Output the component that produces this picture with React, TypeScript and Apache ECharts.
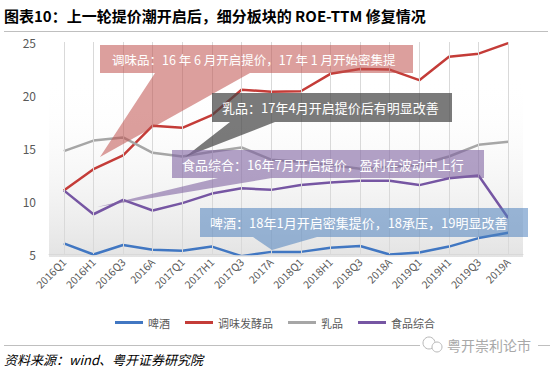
import React, { useEffect, useRef } from "react";
import * as echarts from "echarts";

const categories = [
  "2016Q1", "2016H1", "2016Q3", "2016A", "2017Q1", "2017H1", "2017Q3", "2017A",
  "2018Q1", "2018H1", "2018Q3", "2018A", "2019Q1", "2019H1", "2019Q3", "2019A",
];
const beer = [6.0, 4.95, 5.85, 5.4, 5.3, 5.7, 4.8, 5.2, 5.2, 5.6, 5.75, 4.95, 5.15, 5.7, 6.5, 7.0];
const condiment = [11.0, 13.0, 14.3, 17.1, 16.9, 18.1, 20.5, 20.3, 20.35, 22.0, 22.45, 22.4, 21.4, 23.6, 23.9, 24.9];
const dairy = [14.7, 15.7, 16.0, 14.55, 14.2, 14.65, 15.05, 13.9, 13.7, 13.4, 13.05, 13.2, 13.4, 14.2, 15.3, 15.6];
const food = [11.0, 8.75, 10.1, 9.1, 9.8, 10.7, 11.2, 11.05, 11.5, 11.75, 11.9, 11.9, 11.5, 12.15, 12.4, 8.4];
const seriesNames = ["啤酒", "调味发酵品", "乳品", "食品综合"];
const seriesColors = ["#4177c2", "#c43c38", "#a6a6a6", "#7656a3"];
const yTicks = { min: 5, max: 25, interval: 5 };

const titleText = "图表10：上一轮提价潮开启后，细分板块的 ROE-TTM 修复情况";
const sourceText = "资料来源：wind、粤开证券研究院";
const watermark = "粤开崇利论市";
const notes = [
  "调味品：16 年 6 月开启提价，17 年 1 月开始密集提",
  "乳品：17年4月开启提价后有明显改善",
  "食品综合：16年7月开启提价，盈利在波动中上行",
  "啤酒：18年1月开启密集提价，18承压，19明显改善",
];

const FONT = "'Noto Sans CJK SC', 'Noto Sans', sans-serif";

export default function App() {
  const ref = useRef<HTMLDivElement>(null);
  useEffect(() => {
    if (!ref.current) return;
    const chart = echarts.init(ref.current, undefined, { renderer: "svg" });
    const data = [beer, condiment, dairy, food];

    const callout = (pts: number[][], fill: string, text: string, tx: number, ty: number, fs: number) => [
      {
        type: "polygon",
        z: 20,
        silent: true,
        shape: { points: pts },
        style: { fill },
      },
      {
        type: "text",
        z: 21,
        silent: true,
        x: tx,
        y: ty,
        style: {
          text,
          fill: "#ffffff",
          font: `${fs}px ${FONT}`,
          textVerticalAlign: "middle",
        },
      },
    ];

    chart.setOption({
      animation: false,
      textStyle: { fontFamily: FONT },
      grid: { left: 49, width: 474, top: 42, height: 212, containLabel: false },
      legend: {
        data: seriesNames,
        left: 110,
        top: 312,
        icon: "rect",
        itemWidth: 28,
        itemHeight: 3,
        itemGap: 15,
        textStyle: { color: "#595959", fontSize: 11, fontFamily: FONT },
      },
      xAxis: {
        type: "category",
        data: categories,
        boundaryGap: true,
        axisLine: { show: true, lineStyle: { color: "#d9d9d9", width: 1 } },
        axisTick: { show: false },
        splitLine: { show: false },
        axisLabel: {
          rotate: 45,
          interval: 0,
          color: "#595959",
          fontSize: 10.5,
          margin: 6,
          fontFamily: FONT,
        },
      },
      yAxis: {
        type: "value",
        min: yTicks.min,
        max: yTicks.max,
        interval: yTicks.interval,
        axisLine: { show: false },
        axisTick: { show: false },
        splitLine: { show: false },
        axisLabel: { color: "#595959", fontSize: 12, margin: 13, fontFamily: FONT },
      },
      series: [
        {
          type: "line",
          name: "_grid",
          data: [],
          silent: true,
          markLine: {
            silent: true,
            symbol: ["none", "none"],
            label: { show: false },
            lineStyle: { color: "#d9d9d9", width: 1, type: "solid" },
            data: categories.map((c) => ({ xAxis: c })),
          },
        },
        ...seriesNames.map((name, i) => ({
          type: "line",
          name,
          data: data[i],
          symbol: "none",
          lineStyle: { color: seriesColors[i], width: 2.5 },
          itemStyle: { color: seriesColors[i] },
        })),
      ],
      graphic: [
        {
          type: "rect",
          z: -1,
          silent: true,
          shape: { x: 49, y: 77, width: 474, height: 180 },
          style: {
            fill: new echarts.graphic.LinearGradient(0, 0, 0, 1, [
              { offset: 0, color: "rgba(255,255,255,0)" },
              { offset: 1, color: "#e3e3e3" },
            ]),
          },
        },
        {
          type: "text",
          x: 4,
          y: 15,
          silent: true,
          style: {
            text: titleText,
            fill: "#000000",
            font: `bold 15px ${FONT}`,
            textVerticalAlign: "middle",
          },
        },
        {
          type: "line",
          silent: true,
          shape: { x1: 4, y1: 31.5, x2: 548, y2: 31.5 },
          style: { stroke: "#bfbfbf", lineWidth: 1 },
        },
        {
          type: "line",
          silent: true,
          shape: { x1: 4, y1: 345.5, x2: 550, y2: 345.5 },
          style: { stroke: "#bfbfbf", lineWidth: 1 },
        },
        {
          type: "rect",
          silent: true,
          z: 5,
          shape: { x: 420, y: 336, width: 118, height: 18 },
          style: { fill: "#ffffff" },
        },
        {
          type: "circle",
          silent: true,
          z: 6,
          shape: { cx: 429, cy: 343, r: 6 },
          style: { fill: "none", stroke: "#b8b8b8", lineWidth: 1 },
        },
        {
          type: "circle",
          silent: true,
          z: 6,
          shape: { cx: 437, cy: 347, r: 5 },
          style: { fill: "#ffffff", stroke: "#b8b8b8", lineWidth: 1 },
        },
        {
          type: "text",
          silent: true,
          z: 6,
          x: 447,
          y: 345,
          style: {
            text: watermark,
            fill: "#a8a8a8",
            font: `14px ${FONT}`,
            textVerticalAlign: "middle",
          },
        },
        {
          type: "text",
          silent: true,
          x: 4,
          y: 359,
          style: {
            text: sourceText,
            fill: "#000000",
            font: `italic 13px ${FONT}`,
            textVerticalAlign: "middle",
          },
        },
        ...callout(
          [[100, 45], [413, 45], [413, 73], [250, 73], [100, 157], [155, 73], [100, 73]],
          "rgba(192,80,77,0.55)", notes[0], 112, 59.5, 12.5
        ),
        ...callout(
          [[212, 93], [452, 93], [452, 122], [275, 122], [185, 157], [230, 122], [212, 122]],
          "rgba(70,70,70,0.72)", notes[1], 222, 107.5, 13
        ),
        ...callout(
          [[172, 150], [484, 150], [484, 178], [272, 178], [97, 207], [218, 178], [172, 178]],
          "rgba(128,100,162,0.6)", notes[2], 182, 164, 13
        ),
        ...callout(
          [[200, 208], [528, 208], [528, 237], [317, 237], [272, 250], [253, 237], [200, 237]],
          "rgba(79,129,189,0.55)", notes[3], 210, 222.5, 13
        ),
      ],
    });
    return () => chart.dispose();
  }, []);
  return (
    <div
      ref={ref}
      style={{ position: "fixed", left: 0, top: 0, width: 550, height: 370, background: "#ffffff" }}
    />
  );
}
